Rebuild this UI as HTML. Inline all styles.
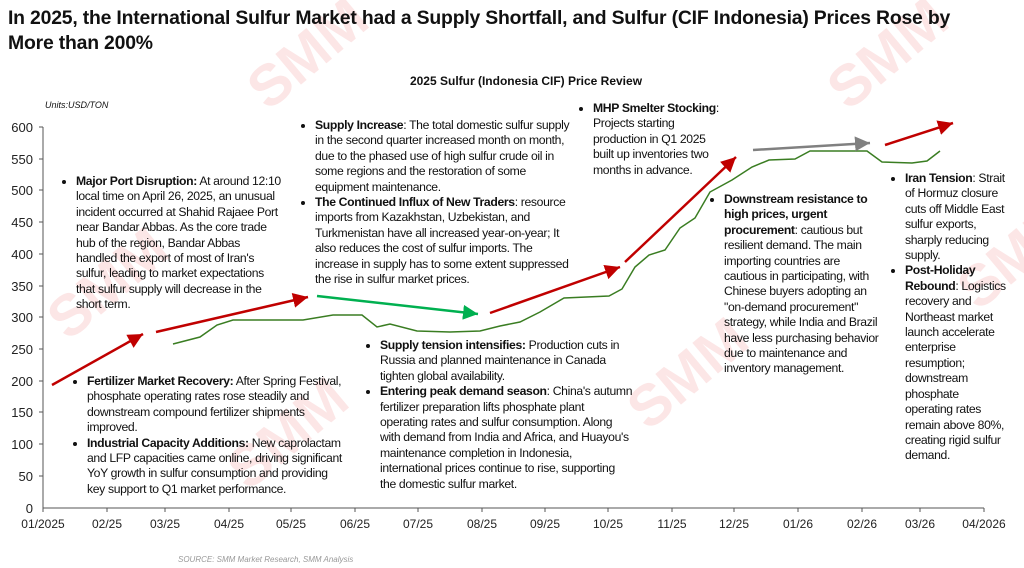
<!DOCTYPE html>
<html><head><meta charset="utf-8"><style>
body{margin:0;width:1024px;height:568px;background:#fff;overflow:hidden;position:relative;font-family:"Liberation Sans",sans-serif;color:#111}
.t{position:absolute;font-size:12.2px;line-height:15.4px;letter-spacing:-0.35px;white-space:nowrap}
.t ul{margin:0;padding:0 0 0 13px}
.t li{margin:0;padding:0}
b{font-weight:bold}
.title{position:absolute;left:8px;top:6px;font-size:19.4px;font-weight:bold;line-height:25px;white-space:nowrap;letter-spacing:-0.2px}
.sub{position:absolute;left:0;width:1052px;text-align:center;top:74px;font-size:12px;font-weight:bold}
.wm{position:absolute;color:rgba(235,90,90,0.15);font-weight:bold;font-size:58px;transform:rotate(-40deg)}
</style></head><body>
<div class="wm" style="left:240px;top:20px">SMM</div>
<div class="wm" style="left:40px;top:250px">SMM</div>
<div class="wm" style="left:220px;top:400px">SMM</div>
<div class="wm" style="left:620px;top:340px">SMM</div>
<div class="wm" style="left:820px;top:20px">SMM</div>
<div class="wm" style="left:950px;top:220px">SMM</div>
<div class="title">In 2025, the International Sulfur Market had a Supply Shortfall, and Sulfur (CIF Indonesia) Prices Rose by<br>More than 200%</div>
<div class="sub">2025 Sulfur (Indonesia CIF) Price Review</div>
<div style="position:absolute;left:45px;top:100px;font-size:9px;font-style:italic">Units:USD/TON</div>
<div style="position:absolute;left:178px;top:555px;font-size:8px;font-style:italic;color:#999">SOURCE: SMM Market Research, SMM Analysis</div>
<svg width="1024" height="568" style="position:absolute;left:0;top:0" font-family="Liberation Sans, sans-serif">
<defs>
<marker id="r" markerWidth="8" markerHeight="8" refX="6" refY="3" orient="auto" markerUnits="strokeWidth"><path d="M0,0 L6,3 L0,6z" fill="#c00000"/></marker>
<marker id="g" markerWidth="8" markerHeight="8" refX="6" refY="3" orient="auto" markerUnits="strokeWidth"><path d="M0,0 L6,3 L0,6z" fill="#00b050"/></marker>
<marker id="y" markerWidth="8" markerHeight="8" refX="6" refY="3" orient="auto" markerUnits="strokeWidth"><path d="M0,0 L6,3 L0,6z" fill="#808080"/></marker>
</defs>
<g stroke="#555" stroke-width="1">
<line x1="43" y1="127" x2="43" y2="508"/>
<line x1="43" y1="508" x2="984" y2="508"/>
<line x1="39" y1="127" x2="43" y2="127"/><line x1="39" y1="159" x2="43" y2="159"/><line x1="39" y1="190" x2="43" y2="190"/><line x1="39" y1="222" x2="43" y2="222"/><line x1="39" y1="254" x2="43" y2="254"/><line x1="39" y1="286" x2="43" y2="286"/><line x1="39" y1="317" x2="43" y2="317"/><line x1="39" y1="349" x2="43" y2="349"/><line x1="39" y1="381" x2="43" y2="381"/><line x1="39" y1="412" x2="43" y2="412"/><line x1="39" y1="444" x2="43" y2="444"/><line x1="39" y1="476" x2="43" y2="476"/>
<g>
<line x1="43" y1="508" x2="43" y2="512"/><line x1="107" y1="508" x2="107" y2="512"/><line x1="165" y1="508" x2="165" y2="512"/><line x1="229" y1="508" x2="229" y2="512"/><line x1="291" y1="508" x2="291" y2="512"/><line x1="355" y1="508" x2="355" y2="512"/><line x1="418" y1="508" x2="418" y2="512"/><line x1="482" y1="508" x2="482" y2="512"/><line x1="545" y1="508" x2="545" y2="512"/><line x1="608" y1="508" x2="608" y2="512"/><line x1="672" y1="508" x2="672" y2="512"/><line x1="734" y1="508" x2="734" y2="512"/><line x1="798" y1="508" x2="798" y2="512"/><line x1="862" y1="508" x2="862" y2="512"/><line x1="920" y1="508" x2="920" y2="512"/><line x1="984" y1="508" x2="984" y2="512"/>
</g></g>
<g font-size="13" fill="#222" text-anchor="end">
<text x="33" y="132">600</text><text x="33" y="164">550</text><text x="33" y="195">500</text><text x="33" y="227">450</text><text x="33" y="259">400</text><text x="33" y="291">350</text><text x="33" y="322">300</text><text x="33" y="354">250</text><text x="33" y="386">200</text><text x="33" y="417">150</text><text x="33" y="449">100</text><text x="33" y="481">50</text><text x="33" y="513">0</text>
</g>
<g font-size="12" fill="#222" text-anchor="middle">
<text x="43" y="528">01/2025</text><text x="107" y="528">02/25</text><text x="165" y="528">03/25</text><text x="229" y="528">04/25</text><text x="291" y="528">05/25</text><text x="355" y="528">06/25</text><text x="418" y="528">07/25</text><text x="482" y="528">08/25</text><text x="545" y="528">09/25</text><text x="608" y="528">10/25</text><text x="672" y="528">11/25</text><text x="734" y="528">12/25</text><text x="798" y="528">01/26</text><text x="862" y="528">02/26</text><text x="920" y="528">03/26</text><text x="984" y="528">04/2026</text>
</g>
<polyline fill="none" stroke="#3a7d22" stroke-width="1.5" points="173,344 200,337 217,325 233,320 303,320 333,315 362,315 377,327 390,324 417,331 450,332 480,331 500,326 520,322 540,312 564,298 609,296 622,289 635,267 649,255 665,250 680,228 695,218 710,192 732,180 752,167 769,160 795,159 810,151 867,151 882,162 912,163 927,161 940,151"/>
<g stroke-width="2.5" fill="none">
<line x1="52" y1="385" x2="143" y2="334" stroke="#c00000" marker-end="url(#r)"/>
<line x1="156" y1="332" x2="308" y2="297" stroke="#c00000" marker-end="url(#r)"/>
<line x1="317" y1="296" x2="478" y2="314" stroke="#00b050" marker-end="url(#g)"/>
<line x1="490" y1="313" x2="620" y2="267" stroke="#c00000" marker-end="url(#r)"/>
<line x1="625" y1="262" x2="736" y2="157" stroke="#c00000" marker-end="url(#r)"/>
<line x1="753" y1="150" x2="870" y2="143" stroke="#808080" marker-end="url(#y)"/>
<line x1="885" y1="145" x2="953" y2="123" stroke="#c00000" marker-end="url(#r)"/>
</g>
</svg>
<div class="t" style="left:63px;top:174px"><ul><li><b>Major Port Disruption:</b> At around 12:10<br>local time on April 26, 2025, an unusual<br>incident occurred at Shahid Rajaee Port<br>near Bandar Abbas. As the core trade<br>hub of the region, Bandar Abbas<br>handled the export of most of Iran's<br>sulfur, leading to market expectations<br>that sulfur supply will decrease in the<br>short term.</li></ul></div>
<div class="t" style="left:302px;top:118px"><ul><li><b>Supply Increase</b>: The total domestic sulfur supply<br>in the second quarter increased month on month,<br>due to the phased use of high sulfur crude oil in<br>some regions and the restoration of some<br>equipment maintenance.</li><li><b>The Continued Influx of New Traders</b>: resource<br>imports from Kazakhstan, Uzbekistan, and<br>Turkmenistan have all increased year-on-year; It<br>also reduces the cost of sulfur imports. The<br>increase in supply has to some extent suppressed<br>the rise in sulfur market prices.</li></ul></div>
<div class="t" style="left:580px;top:101px"><ul><li><b>MHP Smelter Stocking</b>:<br>Projects starting<br>production in Q1 2025<br>built up inventories two<br>months in advance.</li></ul></div>
<div class="t" style="left:74px;top:374px"><ul><li><b>Fertilizer Market Recovery:</b> After Spring Festival,<br>phosphate operating rates rose steadily and<br>downstream compound fertilizer shipments<br>improved.</li><li><b>Industrial Capacity Additions:</b> New caprolactam<br>and LFP capacities came online, driving significant<br>YoY growth in sulfur consumption and providing<br>key support to Q1 market performance.</li></ul></div>
<div class="t" style="left:367px;top:338px"><ul><li><b>Supply tension intensifies:</b> Production cuts in<br>Russia and planned maintenance in Canada<br>tighten global availability.</li><li><b>Entering peak demand season</b>: China's autumn<br>fertilizer preparation lifts phosphate plant<br>operating rates and sulfur consumption. Along<br>with demand from India and Africa, and Huayou's<br>maintenance completion in Indonesia,<br>international prices continue to rise, supporting<br>the domestic sulfur market.</li></ul></div>
<div class="t" style="left:711px;top:192px"><ul><li><b>Downstream resistance to<br>high prices, urgent<br>procurement</b>: cautious but<br>resilient demand. The main<br>importing countries are<br>cautious in participating, with<br>Chinese buyers adopting an<br>"on-demand procurement"<br>strategy, while India and Brazil<br>have less purchasing behavior<br>due to maintenance and<br>inventory management.</li></ul></div>
<div class="t" style="left:892px;top:171px"><ul><li><b>Iran Tension</b>: Strait<br>of Hormuz closure<br>cuts off Middle East<br>sulfur exports,<br>sharply reducing<br>supply.</li><li><b>Post-Holiday<br>Rebound</b>: Logistics<br>recovery and<br>Northeast market<br>launch accelerate<br>enterprise<br>resumption;<br>downstream<br>phosphate<br>operating rates<br>remain above 80%,<br>creating rigid sulfur<br>demand.</li></ul></div>
</body></html>
